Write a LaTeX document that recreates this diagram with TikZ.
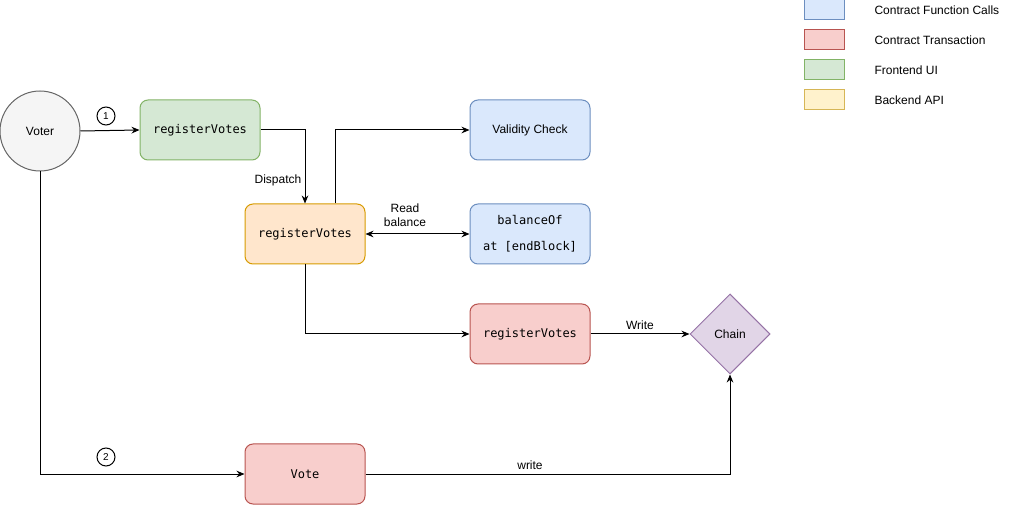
\documentclass[tikz,border=0pt]{standalone}
\usepackage{fontspec}
\setmainfont{Liberation Sans}
\setmonofont{DejaVu Sans Mono}
\usetikzlibrary{arrows.meta,shapes.geometric}
\definecolor{greenfill}{HTML}{D5E8D4}\definecolor{greenline}{HTML}{82B366}
\definecolor{orangefill}{HTML}{FFE6CC}\definecolor{orangeline}{HTML}{D79B00}
\definecolor{bluefill}{HTML}{DAE8FC}\definecolor{blueline}{HTML}{6C8EBF}
\definecolor{redfill}{HTML}{F8CECC}\definecolor{redline}{HTML}{B85450}
\definecolor{purplefill}{HTML}{E1D5E7}\definecolor{purpleline}{HTML}{9673A6}
\definecolor{greyfill}{HTML}{F5F5F5}\definecolor{greyline}{HTML}{666666}
\definecolor{yellowfill}{HTML}{FFF2CC}\definecolor{yellowline}{HTML}{D6B656}
\begin{document}
\begin{tikzpicture}[
    x=0.75pt, y=-0.75pt, line width=0.75pt,
    >={Stealth[length=6pt,width=5pt]},
    every node/.style = {font=\fontsize{9}{11}\selectfont},
    box/.style = {rectangle, rounded corners=6pt, draw, minimum width=90pt, minimum height=45pt, align=center, font=\ttfamily\fontsize{9}{19.5}\selectfont},
    legend/.style = {rectangle, draw, minimum width=30pt, minimum height=15pt, inner sep=0pt},
    num/.style = {circle, draw, minimum size=13.5pt, inner sep=0pt, font=\fontsize{7.5}{9}\selectfont}
    ]
    \useasboundingbox (0,0) rectangle (1013,505);
    \node[circle, draw=greyline, fill=greyfill, minimum size=60pt, inner sep=0pt] (voter) at (40,131) {Voter};
    \node[box, draw=greenline, fill=greenfill] (front) at (200,130) {registerVotes};
    \node[box, draw=orangeline, fill=orangefill] (back) at (305,234) {registerVotes};
    \node[box, draw=blueline, fill=bluefill, font=\fontsize{9}{11}\selectfont] (valid) at (530,130) {Validity Check};
    \node[box, draw=blueline, fill=bluefill] (balance) at (530,234) {balanceOf\\at [endBlock]};
    \node[box, draw=redline, fill=redfill] (tx) at (530,334) {registerVotes};
    \node[diamond, draw=purpleline, fill=purplefill, minimum width=60pt, minimum height=60pt, inner sep=0pt] (chain) at (730,334) {Chain};
    \node[box, draw=redline, fill=redfill] (vote) at (305,474) {Vote};
    \node[num] (one) at (106,116) {1};
    \node[num] (two) at (106,457) {2};
    \node (dispatch) at (278,180) {Dispatch};
    \node[align=center, font=\fontsize{9}{10.5}\selectfont] (read) at (405,215) {Read\\balance};
    \node (write) at (640,325) {Write};
    \node (writeb) at (530,465) {write};
    \draw[->] (voter.east) -- (front.west);
    \draw[->] (front.east) -| (back.north);
    \draw[->] ([xshift=22.5pt]back.north) |- (valid.west);
    \draw[<->] (back.east) -- (balance.west);
    \draw[->] (back.south) |- (tx.west);
    \draw[->] (tx.east) -- (chain.west);
    \draw[->] (voter.south) |- (vote.west);
    \draw[->] (vote.east) -| (chain.south);
    \node[legend, draw=blueline, fill=bluefill] (lblue) at (824,10) {};
    \node[legend, draw=redline, fill=redfill] (lred) at (824,40) {};
    \node[legend, draw=greenline, fill=greenfill] (lgreen) at (824,70) {};
    \node[legend, draw=yellowline, fill=yellowfill] (lyellow) at (824,100) {};
    \node[anchor=west, inner sep=0pt] (tblue) at (874,10) {Contract Function Calls};
    \node[anchor=west, inner sep=0pt] (tred) at (874,40) {Contract Transaction};
    \node[anchor=west, inner sep=0pt] (tgreen) at (874,70) {Frontend UI};
    \node[anchor=west, inner sep=0pt] (tyellow) at (874,100) {Backend API};
\end{tikzpicture}
\end{document}
